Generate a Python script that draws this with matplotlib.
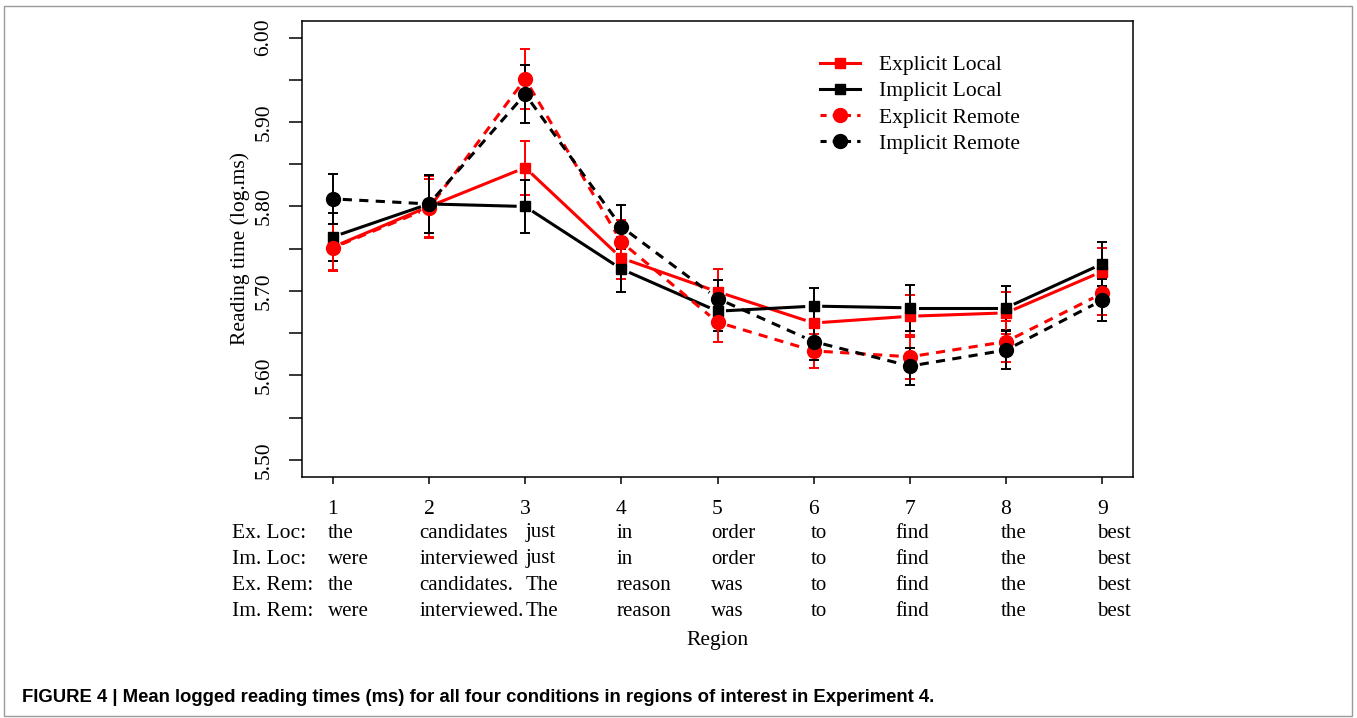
import numpy as np
import matplotlib
matplotlib.use('Agg')
import matplotlib.pyplot as plt
from matplotlib import transforms
from matplotlib.patches import Rectangle

plt.rcParams['font.family'] = ['Liberation Serif', 'DejaVu Serif']

regions = [1, 2, 3, 4, 5, 6, 7, 8, 9]
ex_local = [5.752, 5.800, 5.846, 5.739, 5.699, 5.662, 5.670, 5.674, 5.723]
ex_local_err = [0.027, 0.036, 0.032, 0.025, 0.027, 0.022, 0.025, 0.025, 0.028]
im_local = [5.764, 5.803, 5.800, 5.726, 5.676, 5.682, 5.680, 5.680, 5.732]
im_local_err = [0.028, 0.034, 0.031, 0.027, 0.024, 0.022, 0.027, 0.026, 0.026]
ex_remote = [5.751, 5.798, 5.951, 5.758, 5.663, 5.629, 5.622, 5.640, 5.697]
ex_remote_err = [0.028, 0.035, 0.035, 0.026, 0.023, 0.020, 0.026, 0.024, 0.025]
im_remote = [5.809, 5.803, 5.933, 5.776, 5.691, 5.640, 5.611, 5.630, 5.689]
im_remote_err = [0.030, 0.034, 0.034, 0.026, 0.022, 0.022, 0.022, 0.022, 0.025]

row_names = ['Ex. Loc:', 'Im. Loc:', 'Ex. Rem:', 'Im. Rem:']
row_words = [
    ['the', 'candidates', 'just', 'in', 'order', 'to', 'find', 'the', 'best'],
    ['were', 'interviewed', 'just', 'in', 'order', 'to', 'find', 'the', 'best'],
    ['the', 'candidates.', 'The', 'reason', 'was', 'to', 'find', 'the', 'best'],
    ['were', 'interviewed.', 'The', 'reason', 'was', 'to', 'find', 'the', 'best'],
]
yticks = [5.50, 5.55, 5.60, 5.65, 5.70, 5.75, 5.80, 5.85, 5.90, 5.95, 6.00]

W, H = 1357, 718
fig = plt.figure(figsize=(W / 100, H / 100), dpi=100)
ax = fig.add_axes([302 / W, 1 - 476.7 / H, (1133 - 302) / W, (476.7 - 20.7) / H])
ax.set_xlim(0.68, 9.32)
ax.set_ylim(5.48, 6.02)

FS = 15.5


def gapped_line(x, y, color, ls, gap=10):
    # R type="b": segments stop short of the points
    pts = ax.transData.transform(np.column_stack([x, y]))
    inv = ax.transData.inverted()
    for i in range(len(pts) - 1):
        p0, p1 = pts[i], pts[i + 1]
        d = p1 - p0
        n = np.hypot(*d)
        if n <= 2 * gap:
            continue
        a = inv.transform(p0 + d / n * gap)
        b = inv.transform(p1 - d / n * gap)
        ax.plot([a[0], b[0]], [a[1], b[1]], color=color, lw=2.2, ls=ls,
                dashes=(3, 2.4) if ls == '--' else (None, None), zorder=2)


series = [
    ('Explicit Local', ex_local, ex_local_err, 'red', '-', 's', 7.5),
    ('Implicit Local', im_local, im_local_err, 'black', '-', 's', 7.5),
    ('Explicit Remote', ex_remote, ex_remote_err, 'red', '--', 'o', 10),
    ('Implicit Remote', im_remote, im_remote_err, 'black', '--', 'o', 10),
]

handles = []
for name, vals, err, col, ls, mk, ms in series:
    gapped_line(regions, vals, col, ls)
    ax.errorbar(regions, vals, yerr=err, fmt='none', ecolor=col, elinewidth=1.4,
                capsize=3.5, capthick=1.4, zorder=3)
    ax.plot(regions, vals, ls='none', marker=mk, ms=ms, color=col, zorder=4)
    h, = ax.plot([], [], color=col, lw=2.2, ls=ls, marker=mk, ms=ms,
                 dashes=(2, 2) if ls == '--' else (None, None))
    handles.append(h)

leg = ax.legend(handles, [s[0] for s in series], loc='upper left',
                bbox_to_anchor=(820 / W, 1 - 55 / H), bbox_transform=fig.transFigure,
                frameon=False, fontsize=FS, handlelength=1.85, handletextpad=0.9,
                labelspacing=0.29, borderpad=0, borderaxespad=0)

# axes styling
for sp in ax.spines.values():
    sp.set_linewidth(1.1)
ax.set_yticks(yticks)
ax.set_yticklabels([f'{v:.2f}' if round(v * 100) % 10 == 0 else '' for v in yticks],
                   rotation=90, va='center', fontsize=FS)
ax.tick_params(axis='y', length=9.5, width=1.1, pad=11)
ax.set_xticks(regions)
ax.set_xticklabels([str(r) for r in regions], fontsize=FS)
ax.tick_params(axis='x', length=5, width=1.1, pad=12)

fig.text(240 / W, 1 - 248.7 / H, 'Reading time (log.ms)', rotation=90,
         ha='center', va='center', fontsize=FS)

# word rows under the axis
word_shift = [-0.05, -0.1, 0.0, -0.05, -0.07, -0.03, -0.15, -0.05, -0.05]
trans = transforms.blended_transform_factory(ax.transData, fig.transFigure)
row_y = [533, 559, 585, 611]
for name, words, yp in zip(row_names, row_words, row_y):
    fig.text(232 / W, 1 - yp / H, name, ha='left', va='center', fontsize=FS)
    for r, w, dx in zip(regions, words, word_shift):
        ax.text(r + dx, 1 - yp / H, w, transform=trans, ha='left', va='center',
                fontsize=15, clip_on=False)
ax.text(5, 1 - 641 / H, 'Region', transform=trans, ha='center', va='center',
        fontsize=FS, clip_on=False)

# caption and outer frame
fig.text(22 / W, 1 - 697 / H,
         'FIGURE 4 | Mean logged reading times (ms) for all four conditions in regions of interest in Experiment 4.',
         ha='left', va='center', fontsize=13.3, fontweight='bold',
         family=['Liberation Sans Narrow', 'Liberation Sans', 'DejaVu Sans'])
fig.patches.append(Rectangle((4 / W, 2 / H), 1348 / W, 710 / H, transform=fig.transFigure,
                             fill=False, edgecolor='#9a9a9a', lw=1))

fig.savefig('out.png', dpi=100)
